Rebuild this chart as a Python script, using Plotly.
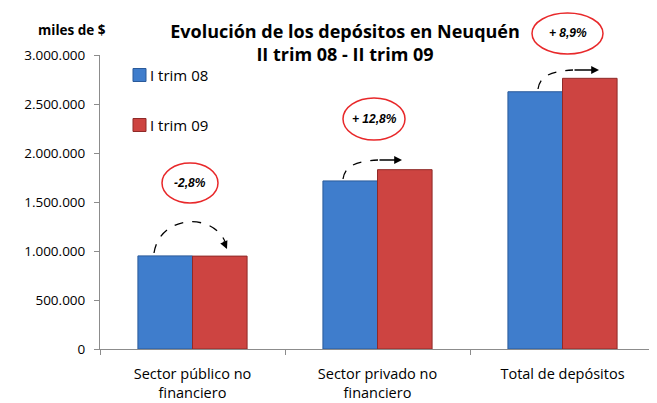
import plotly.graph_objects as go

categories = ["Sector público no<br>financiero", "Sector privado no<br>financiero", "Total de depósitos"]
trim08 = [950000, 1715000, 2625000]
trim09 = [948000, 1830000, 2762000]
series_names = ["I trim 08", "I trim 09"]
variaciones = ["-2,8%", "+ 12,8%", "+ 8,9%"]

# page body has an 8px margin, so the figure is drawn 8px smaller and coordinates are shifted
OFF = 8
W, H = 657, 403
L, R, T, B = 100, 2, 55, 54
FONT = "Open Sans"
BLUE, RED = "#3f7dcc", "#cd4441"
BLUE_EDGE, RED_EDGE = "#2a5a9a", "#8f2a28"


def px(x):
    return (x - L) / (W - L - R)


def py(y):
    return (H - B - y) / (H - T - B)


def label(x, y, text, size, family=FONT, xanchor="center"):
    fig.add_annotation(xref="paper", yref="paper", x=px(x), y=py(y), text=text,
                       xanchor=xanchor, yanchor="middle", showarrow=False,
                       font=dict(family=family, size=size, color="black"))


fig = go.Figure()
fig.add_trace(go.Bar(x=categories, y=trim08, name=series_names[0],
                     marker=dict(color=BLUE, line=dict(color=BLUE_EDGE, width=1))))
fig.add_trace(go.Bar(x=categories, y=trim09, name=series_names[1],
                     marker=dict(color=RED, line=dict(color=RED_EDGE, width=1))))

# legend drawn by hand so the text sits close to the swatch
for i, (name, col, edge) in enumerate(zip(series_names, [BLUE, RED], [BLUE_EDGE, RED_EDGE])):
    yc = 75 + 50 * i
    fig.add_shape(type="rect", xref="paper", yref="paper",
                  x0=px(133), x1=px(146), y0=py(yc + 6.5), y1=py(yc - 6.5),
                  fillcolor=col, line=dict(color=edge, width=1))
    label(148, yc, name, 15, xanchor="left")

# red ellipses with the change labels
ellipses = [(162, 163, 218, 203), (343, 98, 405, 140), (532, 13, 603, 54)]
for (x0, y0, x1, y1), txt in zip(ellipses, variaciones):
    fig.add_shape(type="circle", xref="paper", yref="paper",
                  x0=px(x0), x1=px(x1), y0=py(y1), y1=py(y0),
                  line=dict(color="#e8282a", width=1.5))
    label((x0 + x1) / 2, (y0 + y1) / 2, "<b><i>" + txt + "</i></b>", 12, family="Liberation Sans")

# dashed curved arrows
curves = [
    ([(154, 253), (160, 214), (215, 212), (226, 244)], (227, 249), (-4, -9)),
    ([(343, 179), (345, 164), (360, 161), (378, 160)], (402, 160), (-24, 0)),
    ([(538, 89), (540, 74), (555, 71), (573, 70)], (599, 70), (-26, 0)),
]
for pts, tip, (ax, ay) in curves:
    (a, b), (c, d), (e, f), (g, h) = pts
    path = "M %f,%f C %f,%f %f,%f %f,%f" % (px(a), py(b), px(c), py(d), px(e), py(f), px(g), py(h))
    fig.add_shape(type="path", xref="paper", yref="paper", path=path,
                  line=dict(color="black", width=1.3, dash="dash"))
    fig.add_annotation(xref="paper", yref="paper", x=px(tip[0]), y=py(tip[1]),
                       ax=ax, ay=ay, text="", showarrow=True, arrowhead=2,
                       arrowsize=1.2, arrowwidth=1.3, arrowcolor="black")

label(72, 30, "<b>miles de $</b>", 13.5)

fig.update_layout(
    width=W - OFF, height=H - OFF,
    margin=dict(l=L - OFF, r=R, t=T - OFF, b=B, autoexpand=False),
    paper_bgcolor="white", plot_bgcolor="white",
    font=dict(family=FONT, size=15, color="black"),
    separators=",.",
    barmode="group", bargap=0.41, bargroupgap=0,
    title=dict(text="<b>Evolución de los depósitos en Neuquén<br>II trim 08 - II trim 09</b>",
               x=(345 - OFF) / (W - OFF), xanchor="center",
               y=1 - (38 - OFF) / (H - OFF), yanchor="middle",
               font=dict(family=FONT, size=18, color="black")),
    showlegend=False,
)
fig.update_xaxes(showline=True, linecolor="#8c8c8c", ticks="outside", tickson="boundaries",
                 ticklen=5, tickcolor="#8c8c8c", showgrid=False, ticklabelstandoff=12,
                 tickfont=dict(size=14.5))
fig.update_yaxes(range=[0, 3000000], dtick=500000, tickformat=",d", showline=True,
                 linecolor="#8c8c8c", ticks="outside", ticklen=5, tickcolor="#8c8c8c",
                 showgrid=False, zeroline=False, ticklabelstandoff=6, tickfont=dict(size=13.5))

fig.write_html("out.html")
